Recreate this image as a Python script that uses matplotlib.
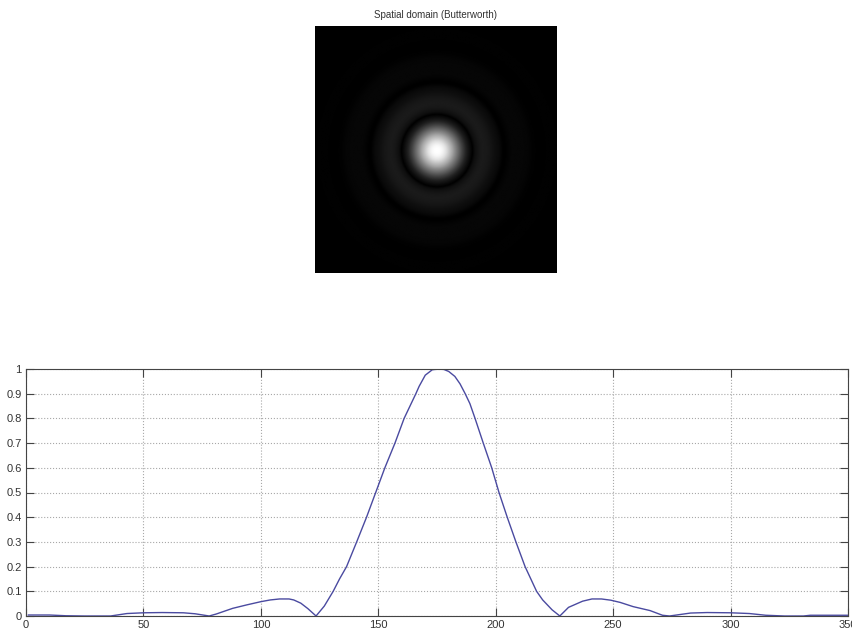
import numpy as np
import matplotlib
matplotlib.use("Agg")
import matplotlib.pyplot as plt
from matplotlib.colors import PowerNorm

plt.rcParams["font.family"] = ["Liberation Sans Narrow", "Liberation Sans", "DejaVu Sans"]

# Profile through the centre of the Butterworth spatial-domain image
prof_x = [1, 10, 17, 25, 36, 43, 50, 58, 67, 72, 78, 81, 88, 94, 100, 104, 108, 112, 114, 117,
          120, 123.5, 127, 130.8, 133.5, 136.5, 140.8, 145, 148.9, 152.8, 157.1, 161, 163.5, 166,
          167.4, 170, 173, 176, 178, 180, 182.6, 184.8, 187, 189, 191.2, 194.7, 198.3, 201.4,
          204.9, 208.6, 212.5, 217.4, 220, 224, 227.3, 231, 237, 241, 245, 249, 253, 258.5,
          265.7, 271, 274, 283, 290, 300, 308, 315, 323, 331, 334, 342, 350]
prof_y = [0.004, 0.004, 0.001, 0.0, 0.0, 0.01, 0.013, 0.014, 0.013, 0.009, 0.0, 0.008, 0.031,
          0.045, 0.058, 0.065, 0.069, 0.069, 0.065, 0.052, 0.03, 0.0, 0.04, 0.1, 0.15, 0.2, 0.3,
          0.4, 0.5, 0.6, 0.7, 0.8, 0.85, 0.9, 0.93, 0.975, 0.997, 1.0, 0.998, 0.99, 0.97, 0.94,
          0.9, 0.86, 0.8, 0.7, 0.6, 0.5, 0.4, 0.3, 0.2, 0.1, 0.065, 0.025, 0.0, 0.035, 0.06,
          0.069, 0.069, 0.064, 0.055, 0.038, 0.022, 0.003, 0.0, 0.012, 0.014, 0.013, 0.01,
          0.003, 0.0, 0.0, 0.003, 0.003, 0.003]

x_ticks = [0, 50, 100, 150, 200, 250, 300, 350]
y_ticks = [0, 0.1, 0.2, 0.3, 0.4, 0.5, 0.6, 0.7, 0.8, 0.9, 1]
y_labels = ["0", "0.1", "0.2", "0.3", "0.4", "0.5", "0.6", "0.7", "0.8", "0.9", "1"]
img_size = 350
centre = 176

# rebuild the 2D image as a radially symmetric version of the profile
px = np.array(prof_x)
py = np.array(prof_y)
right = px >= centre
rr = px[right] - centre
vals = py[right]
yy, xx = np.mgrid[0:img_size, 0:img_size]
r = np.hypot(xx - centre, yy - centre)
img = np.interp(r, rr, vals, right=0.0)

fig = plt.figure(figsize=(8.52, 6.34), dpi=100)

ax1 = fig.add_axes([315 / 852, 1 - 273 / 634, 242 / 852, 247 / 634])
ax1.imshow(img, cmap="gray", norm=PowerNorm(gamma=0.85, vmin=0, vmax=1), aspect="auto",
           interpolation="bilinear")
ax1.axis("off")
ax1.set_title("Spatial domain (Butterworth)", fontsize=7, color="#333333", pad=6)

ax2 = fig.add_axes([26 / 852, 1 - 616 / 634, 822 / 852, 247 / 634])
ax2.plot(prof_x, prof_y, color="#4a4aa0", lw=1)
ax2.set_xlim(0, 350)
ax2.set_ylim(0, 1)
ax2.set_xticks(x_ticks)
ax2.set_yticks(y_ticks)
ax2.set_yticklabels(y_labels)
ax2.grid(True, linestyle=":", color="#a8a8a8", lw=0.8)
ax2.tick_params(direction="in", length=6, width=0.8, top=True, right=True,
                labelsize=8, labelcolor="#333333", color="#444444", pad=3)
for s in ax2.spines.values():
    s.set_color("#444444")
    s.set_linewidth(0.8)

fig.savefig("out.png", dpi=100)
